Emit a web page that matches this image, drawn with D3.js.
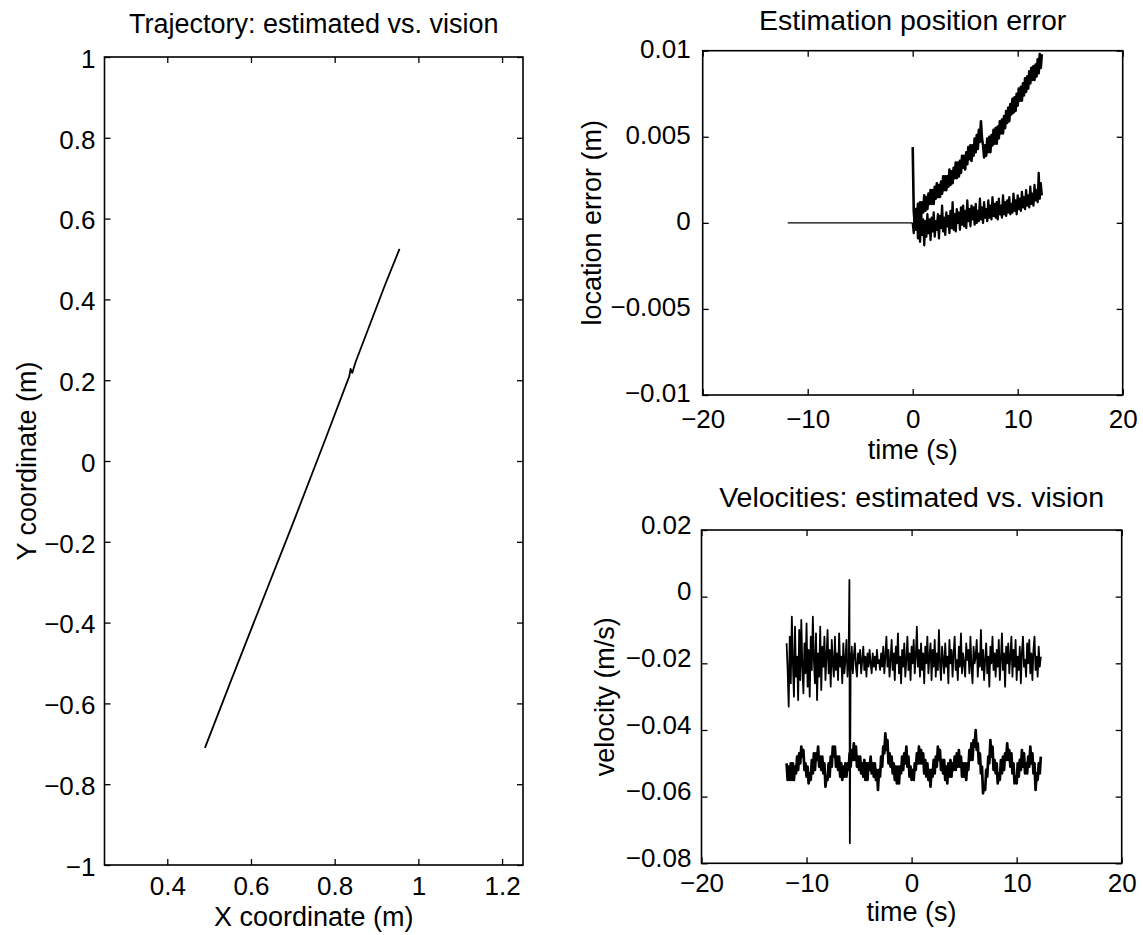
<!DOCTYPE html>
<html>
<head>
<meta charset="utf-8">
<script src="https://cdn.jsdelivr.net/npm/d3@7"></script>
<style>
  body { margin: 0; background: #fff; }
  svg { display: block; font-family: "Liberation Sans", Arial, Helvetica, sans-serif; }
</style>
</head>
<body>
<div id="chart"></div>
<script>
// ---- data ----

// trajectory, estimated vs. vision (m)
var trajX = [0.49, 0.55, 0.62, 0.70, 0.78, 0.835, 0.838, 0.842, 0.85, 0.92, 0.955];
var trajY = [-0.71, -0.55, -0.365, -0.155, 0.06, 0.21, 0.228, 0.218, 0.245, 0.435, 0.525];

// position error (mm), flat before t = 0, then two sampled series
var errFlatT = [-11.9, 0];
var errFlatV = [0, 0];
var errT0 = 0;
var errDt = 0.1;
var errA = [4.4,
  0.7, -0.1, 0.8, 0.0, 1.1, 0.4, 1.2, 0.3, 1.2, 0.6,
  1.6, 0.7, 1.5, 0.8, 1.7, 1.1, 1.9, 1.1, 1.9, 1.1,
  2.1, 1.4, 2.3, 1.5, 2.2, 1.5, 2.4, 1.7, 2.7, 1.9,
  2.7, 1.9, 2.7, 2.1, 3.1, 2.2, 3.0, 2.3, 3.2, 2.6,
  3.5, 2.6, 3.5, 2.7, 3.6, 2.9, 3.9, 3.2, 3.9, 3.1,
  4.1, 3.4, 4.4, 3.7, 4.5, 3.6, 4.5, 3.9, 4.9, 4.1,
  5.1, 4.3, 5.4, 4.7, 5.9, 4.9, 4.5, 3.8, 4.5, 3.9,
  4.9, 4.1, 5.0, 4.1, 5.1, 4.5, 5.4, 4.6, 5.5, 4.6,
  5.6, 4.9, 5.9, 5.2, 6.0, 5.2, 6.2, 5.5, 6.5, 5.8,
  6.7, 5.9, 6.9, 6.3, 7.2, 6.4, 7.3, 6.5, 7.5, 6.8,
  7.8, 7.1, 7.9, 7.1, 8.1, 7.4, 8.4, 7.6, 8.5, 7.8,
  8.8, 8.1, 9.0, 8.3, 9.1, 8.3, 9.2, 8.5, 9.5, 8.7,
  9.8, 9.0, 9.8];
var errB = [0.0,
  -0.6, 0.5, -0.4, 0.8, -0.9, 0.3, -1.1, 0.4, -0.7, 0.2,
  -1.3, 0.1, -0.8, 0.5, -0.6, 0.2, -1.0, 0.3, -0.5, 0.6,
  -0.8, 0.1, -0.4, 0.5, -0.9, 0.4, -0.3, 1.0, -0.5, 0.3,
  -0.7, 0.6, -0.2, 0.4, -0.6, 0.7, -0.3, 1.2, -0.4, 0.5,
  -0.5, 0.8, 0.0, 0.6, -0.4, 0.9, -0.1, 1.0, -0.2, 0.7,
  -0.3, 1.3, 0.1, 0.8, -0.2, 1.0, 0.2, 0.9, -0.1, 1.1,
  0.0, 0.7, 0.1, 1.4, 0.2, 0.9, 0.0, 1.2, 0.3, 0.8,
  0.1, 1.3, 0.3, 1.0, 0.2, 1.5, 0.4, 1.1, 0.3, 1.2,
  0.2, 1.4, 0.5, 1.0, 0.3, 1.6, 0.5, 1.2, 0.4, 1.3,
  0.6, 1.5, 0.5, 1.1, 0.6, 1.7, 0.7, 1.3, 0.5, 1.6,
  0.8, 1.4, 0.7, 1.8, 0.9, 1.5, 0.8, 1.9, 1.0, 1.6,
  0.9, 2.1, 1.1, 1.7, 1.0, 2.2, 1.3, 1.9, 1.2, 2.9,
  1.4, 2.3, 1.6];

// velocities (mm/s), sampled every 0.1 s from -11.9 s
var velT0 = -11.9;
var velDt = 0.1;
var velA = [
  -14, -22, -33, -12, -26, -6, -20, -30, -9, -24,
  -18, -31, -10, -25, -7, -21, -29, -14, -23, -8,
  -27, -16, -30, -12, -22, -6, -19, -26, -11, -31,
  -17, -24, -9, -28, -15, -21, -12, -25, -18, -10,
  -23, -16, -27, -13, -20, -24, -12, -22, -17, -25,
  -11, -21, -18, -26, -14, -23, -19, -13, -24, -20,
  -17, -22, -15, -23, -18, -14, -21, -24, -17, -20,
  -16, -23, -19, -15, -22, -18, -24, -17, -21, -16,
  -20, -23, -17, -21, -18, -22, -16, -20, -19, -22,
  -17, -21, -15, -23, -18, -12, -21, -16, -24, -19,
  -13, -22, -17, -25, -15, -20, -11, -23, -18, -26,
  -16, -21, -14, -24, -19, -12, -22, -17, -25, -15,
  -20, -13, -23, -18, -9, -21, -16, -24, -14, -22,
  -17, -26, -15, -20, -12, -23, -18, -14, -25, -16,
  -21, -13, -24, -17, -22, -10, -20, -25, -15, -19,
  -23, -14, -21, -18, -26, -13, -20, -16, -24, -17,
  -12, -22, -19, -25, -15, -21, -11, -23, -17, -20,
  -24, -14, -19, -16, -23, -12, -21, -26, -15, -20,
  -18, -13, -24, -17, -21, -10, -22, -16, -25, -19,
  -14, -23, -18, -27, -15, -20, -12, -22, -17, -24,
  -16, -21, -13, -25, -19, -11, -22, -17, -27, -15,
  -20, -14, -23, -18, -12, -24, -16, -21, -13, -25,
  -18, -22, -15, -26, -17, -12, -21, -19, -24, -14,
  -20, -13, -23, -17, -25, -16, -12, -22, -18, -24,
  -15, -21, -18];
var velB = [
  -50, -55, -51, -55, -50, -55, -50, -55, -51, -53,
  -48, -52, -47, -50, -45, -48, -46, -52, -50, -54,
  -51, -56, -53, -55, -49, -53, -47, -52, -47, -49,
  -45, -51, -48, -52, -48, -53, -50, -57, -54, -55,
  -50, -54, -48, -51, -45, -48, -45, -51, -48, -52,
  -48, -54, -50, -55, -51, -54, -50, -54, -50, -52,
  -47, -51, -46, -49, -44, -49, -45, -51, -48, -52,
  -48, -53, -50, -54, -49, -55, -50, -55, -50, -52,
  -48, -53, -50, -54, -50, -55, -52, -58, -52, -54,
  -48, -51, -45, -47, -41, -46, -43, -50, -47, -51,
  -48, -53, -50, -55, -51, -56, -51, -56, -51, -53,
  -48, -52, -47, -50, -45, -51, -48, -54, -51, -55,
  -52, -55, -50, -52, -47, -50, -45, -50, -46, -50,
  -47, -53, -49, -54, -50, -55, -52, -57, -52, -54,
  -49, -53, -48, -51, -45, -49, -46, -52, -49, -53,
  -49, -55, -51, -56, -50, -54, -49, -54, -50, -52,
  -48, -52, -47, -51, -46, -51, -48, -54, -50, -54,
  -50, -55, -50, -52, -46, -49, -44, -49, -43, -45,
  -40, -46, -44, -50, -47, -53, -51, -59, -57, -58,
  -52, -54, -48, -50, -43, -48, -45, -52, -49, -53,
  -50, -56, -53, -55, -49, -53, -48, -52, -47, -49,
  -44, -49, -46, -51, -47, -53, -50, -56, -54, -56,
  -50, -54, -49, -52, -46, -51, -47, -53, -50, -53,
  -48, -51, -45, -50, -47, -53, -50, -58, -53, -55,
  -50, -53, -48];
var spikeT = [-6.0, -5.92, -5.88, -5.8];
var spikeV = [-19, 5, -74, -19];

// ticks
var trajXTicks = [0.4, 0.6, 0.8, 1, 1.2];
var trajYTicks = [-1, -0.8, -0.6, -0.4, -0.2, 0, 0.2, 0.4, 0.6, 0.8, 1];
var timeTicks = [-20, -10, 0, 10, 20];
var errTicks = [-0.01, -0.005, 0, 0.005, 0.01];
var velTicks = [-0.08, -0.06, -0.04, -0.02, 0, 0.02];

// ---- drawing ----
var svgWidth = 1143;
var svgHeight = 935;
var tickFont = 26;
var labelFont = 27;

var svg = d3.select("#chart")
  .append("svg")
  .attr("width", svgWidth)
  .attr("height", svgHeight);

var fmt = d3.format("~g");

function makePanel(box, xDomain, yDomain, xTicks, yTicks, lab) {
  var x = d3.scaleLinear().domain(xDomain).range([box.left, box.right]);
  var y = d3.scaleLinear().domain(yDomain).range([box.bottom, box.top]);
  var g = svg.append("g");

  function styleAxis(sel) {
    sel.attr("font-size", tickFont)
      .attr("font-family", null);
    sel.selectAll("line").attr("stroke", "#000").attr("stroke-width", 1.3);
    sel.select(".domain").remove();
    sel.selectAll("text").attr("fill", "#000");
  }

  g.append("g")
    .attr("transform", `translate(0, ${box.bottom})`)
    .call(d3.axisBottom(x).tickValues(xTicks).tickFormat(fmt).tickSize(-6).tickPadding(lab.xPad))
    .call(styleAxis);
  g.append("g")
    .attr("transform", `translate(0, ${box.top})`)
    .call(d3.axisTop(x).tickValues(xTicks).tickFormat("").tickSize(-6))
    .call(styleAxis);
  g.append("g")
    .attr("transform", `translate(${box.left}, 0)`)
    .call(d3.axisLeft(y).tickValues(yTicks).tickFormat(fmt).tickSize(-6).tickPadding(lab.yPad))
    .call(styleAxis)
    .selectAll("text")
    .attr("y", lab.yShift);
  g.append("g")
    .attr("transform", `translate(${box.right}, 0)`)
    .call(d3.axisRight(y).tickValues(yTicks).tickFormat("").tickSize(-6))
    .call(styleAxis);

  g.append("rect")
    .attr("x", box.left)
    .attr("y", box.top)
    .attr("width", box.right - box.left)
    .attr("height", box.bottom - box.top)
    .attr("fill", "none")
    .attr("stroke", "#000")
    .attr("stroke-width", 1.6);

  var cx = (box.left + box.right) / 2;
  g.append("text")
    .attr("x", cx)
    .attr("y", lab.titleY)
    .attr("text-anchor", "middle")
    .attr("font-size", lab.titleFont)
    .text(lab.title);
  g.append("text")
    .attr("x", cx)
    .attr("y", lab.xLabelY)
    .attr("text-anchor", "middle")
    .attr("font-size", labelFont)
    .text(lab.xLabel);
  g.append("text")
    .attr("transform", `translate(${lab.yLabelX}, ${(box.top + box.bottom) / 2}) rotate(-90)`)
    .attr("text-anchor", "middle")
    .attr("font-size", labelFont)
    .text(lab.yLabel);

  return { g: g, x: x, y: y };
}

function drawLine(p, pts, w) {
  var line = d3.line()
    .x(d => p.x(d[0]))
    .y(d => p.y(d[1]));
  p.g.append("path")
    .datum(pts)
    .attr("d", line)
    .attr("fill", "none")
    .attr("stroke", "#000")
    .attr("stroke-width", w || 1.1)
    .attr("stroke-linejoin", "round");
}

// left: trajectory
var traj = makePanel({ left: 104.5, right: 523, top: 57, bottom: 865 },
  [0.25, 1.25], [-1, 1], trajXTicks, trajYTicks,
  { title: "Trajectory: estimated vs. vision", titleY: 33, titleFont: 27,
    xLabel: "X coordinate (m)", xLabelY: 926, xPad: 12,
    yLabel: "Y coordinate (m)", yLabelX: 36, yPad: 9, yShift: 2 });
drawLine(traj, trajX.map((v, i) => [v, trajY[i]]), 1.8);

// top right: position error
var err = makePanel({ left: 702.7, right: 1122.7, top: 50.7, bottom: 395 },
  [-20, 20], [-0.01, 0.01], timeTicks, errTicks,
  { title: "Estimation position error", titleY: 30, titleFont: 28.5,
    xLabel: "time (s)", xLabelY: 459, xPad: 15,
    yLabel: "location error (m)", yLabelX: 601, yPad: 12, yShift: -2 });
drawLine(err, errFlatT.map((t, i) => [t, errFlatV[i] / 1000]), 1.4);
drawLine(err, errA.map((v, i) => [errT0 + i * errDt, v / 1000]), 2.6);
drawLine(err, errB.map((v, i) => [errT0 + i * errDt, v / 1000]), 2.3);

// bottom right: velocities
var vel = makePanel({ left: 701.5, right: 1121.7, top: 530, bottom: 863.3 },
  [-20, 20], [-0.08, 0.02], timeTicks, velTicks,
  { title: "Velocities: estimated vs. vision", titleY: 507, titleFont: 28.5,
    xLabel: "time (s)", xLabelY: 921, xPad: 10,
    yLabel: "velocity (m/s)", yLabelX: 614, yPad: 10, yShift: -5 });
drawLine(vel, velA.map((v, i) => [velT0 + i * velDt, v / 1000]), 1.8);
drawLine(vel, velB.map((v, i) => [velT0 + i * velDt, v / 1000]), 2.7);
drawLine(vel, spikeT.map((t, i) => [t, spikeV[i] / 1000]), 1.8);
</script>
</body>
</html>
